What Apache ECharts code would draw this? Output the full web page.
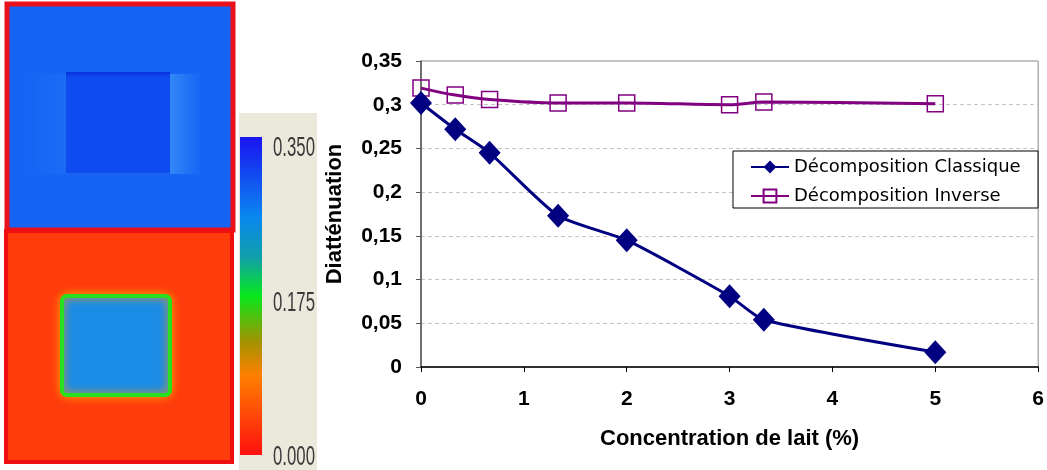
<!DOCTYPE html>
<html>
<head>
<meta charset="utf-8">
<script src="https://cdn.jsdelivr.net/npm/echarts@6/dist/echarts.min.js"></script>
<style>
html,body{margin:0;padding:0;background:#fff;}
#c{width:1047px;height:470px;}
</style>
</head>
<body>
<div id="c"></div>
<script>
// ---- data ----
var concentration = [0, 0.333, 0.667, 1.333, 2, 3, 3.333, 5];
var classique = [0.302, 0.272, 0.245, 0.173, 0.145, 0.081, 0.054, 0.017];
var inverse = [0.319, 0.311, 0.306, 0.302, 0.302, 0.300, 0.303, 0.301];
var seriesNames = ['Décomposition Classique', 'Décomposition Inverse'];
var yTickLabels = ['0', '0,05', '0,1', '0,15', '0,2', '0,25', '0,3', '0,35'];
var xTickLabels = ['0', '1', '2', '3', '4', '5', '6'];
var colorbarLabels = ['0.350', '0.175', '0.000'];

function pairs(xs, ys) { return xs.map(function (x, i) { return [x, ys[i]]; }); }

var chart = echarts.init(document.getElementById('c'), null, { renderer: 'canvas' });

var labelFont = { fontFamily: 'Liberation Sans, Arial, sans-serif', fontWeight: 'bold', fontSize: 21, color: '#000' };
var nameFont = { fontFamily: 'Liberation Sans, Arial, sans-serif', fontWeight: 'bold', fontSize: 22, color: '#000' };

var graphics = [
  // top blue image
  { type: 'rect', z: 1, shape: { x: 7, y: 4, width: 226, height: 226 }, style: { fill: '#1663f4', stroke: '#e8101a', lineWidth: 5 } },
  { type: 'rect', z: 1, shape: { x: 24, y: 74, width: 43, height: 100 }, style: {
      fill: new echarts.graphic.LinearGradient(0, 0, 1, 0, [{ offset: 0, color: '#1663f4' }, { offset: 1, color: '#1b6cf5' }]) } },
  { type: 'rect', z: 1, shape: { x: 170, y: 74, width: 32, height: 100 }, style: {
      fill: new echarts.graphic.LinearGradient(0, 0, 1, 0, [{ offset: 0, color: '#3388f7' }, { offset: 1, color: '#1663f4' }]) } },
  { type: 'rect', z: 1, shape: { x: 66, y: 72, width: 104, height: 101 }, style: { fill: '#0f4cef' } },
  { type: 'rect', z: 1, shape: { x: 66, y: 72, width: 104, height: 6 }, style: {
      fill: new echarts.graphic.LinearGradient(0, 0, 0, 1, [{ offset: 0, color: '#0833dc' }, { offset: 1, color: '#0f4cef' }]) } },
  // bottom red image
  { type: 'rect', z: 1, shape: { x: 6, y: 231, width: 226, height: 231 }, style: { fill: '#ff3c0c', stroke: '#ee1010', lineWidth: 4 } },
  { type: 'rect', z: 1, shape: { x: 62, y: 296, width: 108, height: 99, r: 5 }, style: {
      fill: '#1a8ce6', stroke: '#28e020', lineWidth: 4, shadowBlur: 8, shadowColor: '#ff9a00' } },
  // colorbar panel
  { type: 'rect', z: 1, shape: { x: 239, y: 113, width: 78, height: 357 }, style: { fill: '#ebe9dc' } },
  { type: 'rect', z: 1, shape: { x: 240, y: 137, width: 22, height: 318 }, style: {
      fill: new echarts.graphic.LinearGradient(0, 0, 0, 1, [
        { offset: 0, color: '#1a14f0' },
        { offset: 0.25, color: '#0a86f0' },
        { offset: 0.38, color: '#10a0a8' },
        { offset: 0.5, color: '#08e81c' },
        { offset: 0.64, color: '#a09400' },
        { offset: 0.75, color: '#ff8000' },
        { offset: 1, color: '#ff1010' }
      ]) } },
  // legend box
  { type: 'rect', z: 3, shape: { x: 733, y: 151, width: 305, height: 57 }, style: { fill: '#fff', stroke: '#000', lineWidth: 1 } }
];
var cbY = [148, 303, 457];
colorbarLabels.forEach(function (t, i) {
  graphics.push({ type: 'text', z: 2, x: 273, y: cbY[i], scaleX: 0.6, style: {
    text: t, fontFamily: 'Liberation Sans, Arial, sans-serif', fontSize: 28, fill: '#3a3a3a',
    verticalAlign: 'middle', align: 'left' } });
});

chart.setOption({
  animation: false,
  backgroundColor: '#fff',
  graphic: graphics,
  grid: { left: 421, right: 8, top: 61, bottom: 103, show: true, borderColor: '#888', borderWidth: 1, backgroundColor: '#fff' },
  legend: {
    orient: 'vertical', left: 733, top: 151, z: 4,
    padding: [7, 10, 7, 17], itemWidth: 38, itemHeight: 16, itemGap: 11,
    textStyle: { fontFamily: 'DejaVu Sans, sans-serif', fontSize: 18, color: '#000' },
    data: seriesNames
  },
  xAxis: {
    type: 'value', min: 0, max: 6, interval: 1,
    name: 'Concentration de lait (%)', nameLocation: 'middle', nameGap: 61,
    nameTextStyle: nameFont,
    axisLine: { show: true, onZero: false, lineStyle: { color: '#000', width: 1.5 } },
    axisTick: { show: true, inside: false, length: 5, lineStyle: { color: '#000' } },
    axisLabel: Object.assign({ margin: 22, formatter: function (v) { return xTickLabels[Math.round(v)]; } }, labelFont),
    splitLine: { show: false }
  },
  yAxis: {
    type: 'value', min: 0, max: 0.35, interval: 0.05,
    name: 'Diatténuation', nameLocation: 'middle', nameGap: 75,
    nameTextStyle: nameFont,
    axisLine: { show: true, lineStyle: { color: '#555', width: 1.5 } },
    axisTick: { show: true, inside: false, length: 5, lineStyle: { color: '#555' } },
    axisLabel: Object.assign({ margin: 19, formatter: function (v) { return yTickLabels[Math.round(v / 0.05)]; } }, labelFont),
    splitLine: { show: true, lineStyle: { color: '#c4c4c4', type: [4, 3], width: 1 } }
  },
  series: [
    {
      name: seriesNames[0], type: 'line', z: 3, smooth: 0.2,
      data: pairs(concentration, classique),
      symbol: 'diamond', symbolSize: [22, 24],
      lineStyle: { color: '#000080', width: 3 },
      itemStyle: { color: '#000080' }
    },
    {
      name: seriesNames[1], type: 'line', z: 2, smooth: 0.3,
      data: pairs(concentration, inverse),
      symbol: 'rect', symbolSize: 16,
      lineStyle: { color: '#800080', width: 3 },
      itemStyle: { color: 'rgba(255,255,255,0)', borderColor: '#800080', borderWidth: 1.5 }
    }
  ]
});
</script>
</body>
</html>
